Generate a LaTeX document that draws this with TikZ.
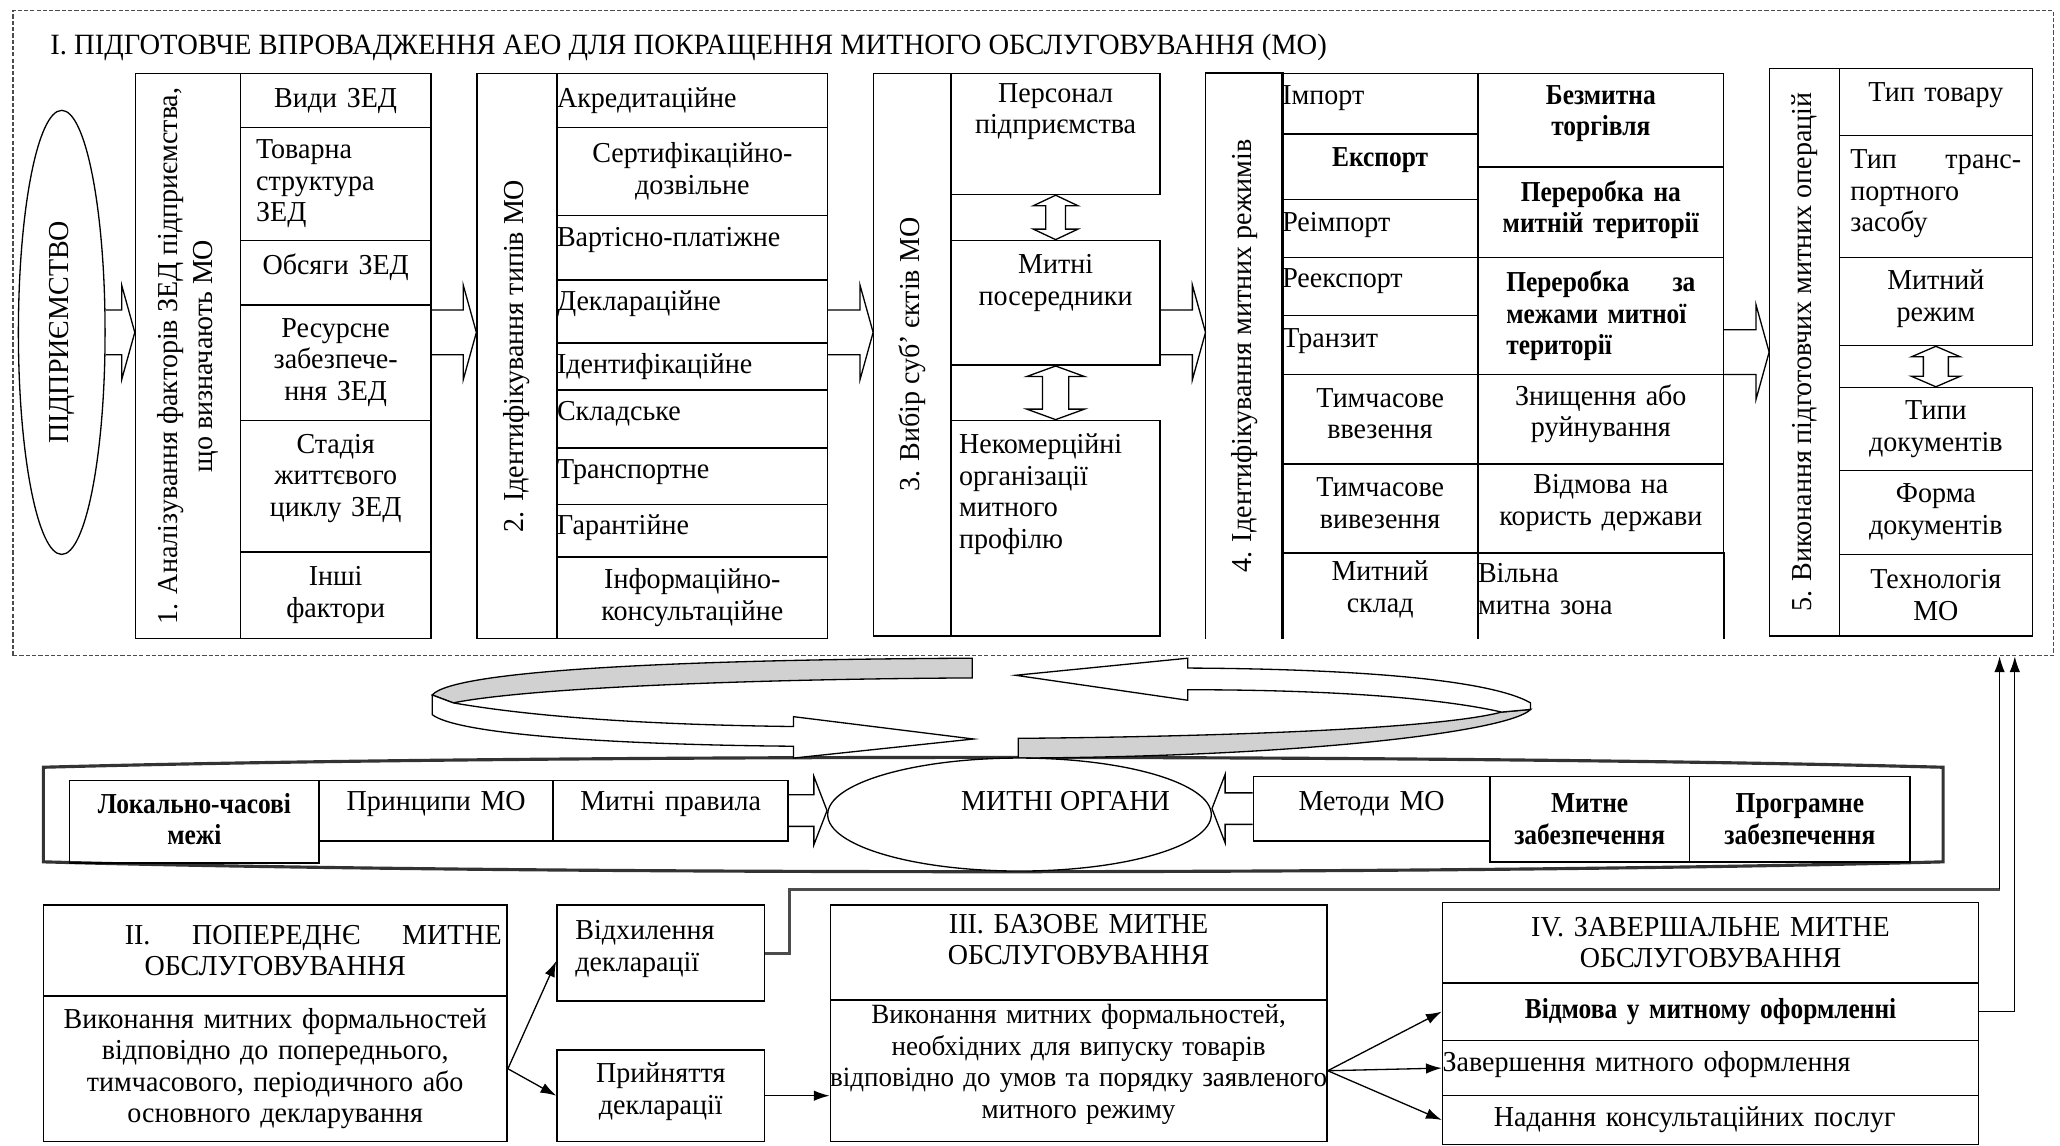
\documentclass[tikz,border=0pt]{standalone}
\usepackage{fontspec}
\setmainfont{Liberation Serif}[FakeStretch=0.97,BoldFeatures={FakeStretch=0.88}]
\usetikzlibrary{calc,fit,arrows.meta,shapes.geometric}

\tikzset{
  box/.style={draw, inner sep=0pt, line width=0.6pt},
  txt/.style={font=\fontsize{11}{12}\selectfont, inner sep=1pt, align=center},
  vlab/.style={txt, rotate=90, font=\fontsize{11}{13.5}\selectfont},
  blk/.style={draw, fill=white, line width=0.5pt},
  ribbon/.style={draw, fill=black!18, line width=0.5pt},
  conn/.style={-{Latex[length=6pt,width=4pt]}, line width=0.5pt},
}

% cell: [text options]{name}{x1}{y1}{x2}{y2}{text}
\newcommand\cell[7][]{%
  \node[box, fit={(#3,#4) (#5,#6)}] (#2) {};
  \pgfmathsetmacro\cw{(#5-#3)*0.5-4}%
  \node[txt, text width=\cw pt, #1] (#2-t) at (#2.center) {#7};}
% cell with no bottom line
\newcommand\ocell[7][]{%
  \node[inner sep=0pt, fit={(#3,#4) (#5,#6)}] (#2) {};
  \draw[line width=0.6pt] (#2.south west) |- (#2.north east) -- (#2.south east);
  \pgfmathsetmacro\cw{(#5-#3)*0.5-4}%
  \node[txt, text width=\cw pt, #1] (#2-t) at (#2.center) {#7};}
% hollow block arrows: {shaft half}{head half}{from}{to}
\newcommand\blockR[4]{%
  \draw[blk] let \p1=(#3), \p2=(#4) in
    (\x1,\y1+#1) -- (\x2-5pt,\y1+#1) -- (\x2-5pt,\y1+#2) -- (\x2,\y1)
    -- (\x2-5pt,\y1-#2) -- (\x2-5pt,\y1-#1) -- (\x1,\y1-#1);}
\newcommand\blockL[4]{%
  \draw[blk] let \p1=(#3), \p2=(#4) in
    (\x1,\y1+#1) -- (\x2+5pt,\y1+#1) -- (\x2+5pt,\y1+#2) -- (\x2,\y1)
    -- (\x2+5pt,\y1-#2) -- (\x2+5pt,\y1-#1) -- (\x1,\y1-#1);}
\newcommand\dblV[4]{%
  \draw[blk] let \p1=(#3), \p2=(#4) in
    (\x1,\y1) -- (\x1+#2,\y1-4pt) -- (\x1+#1,\y1-4pt) -- (\x1+#1,\y2+4pt)
    -- (\x1+#2,\y2+4pt) -- (\x1,\y2) -- (\x1-#2,\y2+4pt) -- (\x1-#1,\y2+4pt)
    -- (\x1-#1,\y1-4pt) -- (\x1-#2,\y1-4pt) -- cycle;}

\begin{document}
\begin{tikzpicture}[x=0.5pt, y=-0.5pt]
\useasboundingbox (0,0) rectangle (1568,872);

%%%%% STAGE I %%%%%
\node[draw, black!70, dash pattern=on 1.6pt off 0.8pt, line width=0.6pt, inner sep=0pt, fit={(10,8) (1563,499)}] (frame) {};
\node[txt, anchor=west, font=\fontsize{11.2}{13}\selectfont] (title) at (36,36) {I. ПІДГОТОВЧЕ ВПРОВАДЖЕННЯ АЕО ДЛЯ ПОКРАЩЕННЯ МИТНОГО ОБСЛУГОВУВАННЯ (МО)};

\coordinate (ar) at (0,253);
\coordinate (ar2) at (0,268);

\node[draw, ellipse, minimum width=33pt, minimum height=169pt, inner sep=0pt, line width=0.5pt] (ent) at (47,253) {};
\node[vlab] (ent-t) at (ent.center) {ПІДПРИЄМСТВО};

\node[inner sep=0pt, fit={(103,56) (328,486)}] (col1) {};
\node[inner sep=0pt, fit={(363,56) (630,486)}] (col2) {};
\node[inner sep=0pt, fit={(665,56) (883,484)}] (col3) {};
\node[inner sep=0pt, fit={(918,56) (1312,486)}] (col4) {};
\node[inner sep=0pt, fit={(1347,52) (1547,484)}] (col5) {};

\blockR{8.5pt}{18pt}{ent.east |- ar}{col1.west |- ar}
\blockR{8.5pt}{18pt}{col1.east |- ar}{col2.west |- ar}
\blockR{8.5pt}{18pt}{col2.east |- ar}{col3.west |- ar}
\blockR{8.5pt}{18pt}{col3.east |- ar}{col4.west |- ar}
\blockR{8.5pt}{18pt}{col4.east |- ar2}{col5.west |- ar2}

% 1
\node[box, fit={(103,56) (183,486)}] (c1) {};
\node[vlab] (c1-t) at (c1.center) {1. Аналізування факторів ЗЕД підприємства,\\ що визначають МО};
\cell{c1a}{183}{56}{328}{97}{Види ЗЕД}
\cell[align=left, xshift=4pt]{c1b}{183}{97}{328}{183}{Товарна\\ структура\\ ЗЕД}
\cell[yshift=2pt]{c1c}{183}{183}{328}{232}{Обсяги ЗЕД}
\cell{c1d}{183}{232}{328}{320}{Ресурсне\\ забезпече-\\ння ЗЕД}
\cell[yshift=3pt]{c1e}{183}{320}{328}{420}{Стадія\\ життєвого\\ циклу ЗЕД}
\cell{c1f}{183}{420}{328}{486}{Інші\\ фактори}

% 2
\node[box, fit={(363,56) (424,486)}] (c2) {};
\node[vlab] (c2-t) at (c2.center) {2. Ідентифікування типів МО};
\cell[align=left, xshift=-2pt]{c2a}{424}{56}{630}{97}{Акредитаційне}
\cell{c2b}{424}{97}{630}{164}{Сертифікаційно-\\дозвільне}
\cell[align=left, xshift=-2pt, yshift=3pt]{c2c}{424}{164}{630}{213}{Вартісно-платіжне}
\cell[align=left, xshift=-2pt, yshift=3pt]{c2d}{424}{213}{630}{261}{Декларацiйне}
\cell[align=left, xshift=-2pt]{c2e}{424}{261}{630}{297}{Ідентифікаційне}
\cell[align=left, xshift=-2pt, yshift=2pt]{c2f}{424}{297}{630}{341}{Складське}
\cell[align=left, xshift=-2pt, yshift=1.5pt]{c2g}{424}{341}{630}{384}{Транспортне}
\cell[align=left, xshift=-2pt, yshift=1pt]{c2h}{424}{384}{630}{424}{Гарантійне}
\cell{c2i}{424}{424}{630}{486}{Інформаційно-\\консультаційне}

% 3
\node[box, fit={(665,56) (724,484)}] (c3) {};
\node[vlab] (c3-t) at (c3.center) {3. Вибір суб' єктів МО};
\cell[yshift=8.5pt]{c3a}{724}{56}{883}{148}{Персонал\\ підприємства}
\cell[yshift=7.5pt]{c3b}{724}{183}{883}{278}{Митні\\ посередники}
\cell[align=left, xshift=1pt, yshift=13pt]{c3c}{724}{320}{883}{484}{Некомерційні\\ організації\\ митного\\ профілю}
\dblV{3.75pt}{8.5pt}{c3a.south}{c3b.north}
\dblV{5pt}{11pt}{c3b.south}{c3c.north}

% 4
\node[inner sep=0pt, fit={(918,56) (976,486)}] (c4) {};
\draw[line width=0.6pt] (c4.south west) |- (c4.north east) -- (c4.south east);
\node[vlab] (c4-t) at (c4.center) {4. Ідентифікування митних режимів};
\cell[align=left, xshift=-2pt, yshift=2pt]{c4a}{976}{56}{1125}{102}{Імпорт}
\cell[yshift=2.5pt]{c4b}{976}{102}{1125}{152}{\textbf{Експорт}}
\cell[align=left, xshift=-2pt, yshift=1.5pt]{c4c}{976}{152}{1125}{196}{Реімпорт}
\cell[align=left, xshift=-2pt, yshift=2pt]{c4d}{976}{196}{1125}{240}{Реекспорт}
\cell[align=left, xshift=-2pt, yshift=1.5pt]{c4e}{976}{240}{1125}{285}{Транзит}
\cell[yshift=2pt]{c4f}{976}{285}{1125}{353}{Тимчасове\\ ввезення}
\cell[yshift=2pt]{c4g}{976}{353}{1125}{421}{Тимчасове\\ вивезення}
\ocell[yshift=2.5pt]{c4h}{976}{421}{1125}{486}{Митний\\ склад}
\cell[yshift=2.5pt]{c4i}{1125}{56}{1312}{127}{\textbf{Безмитна}\\ \textbf{торгівля}}
\cell[yshift=1pt]{c4j}{1125}{127}{1312}{196}{\textbf{Переробка на}\\ \textbf{митній території}}
\cell[align=left, text width=72pt]{c4k}{1125}{196}{1312}{285}{\textbf{Переробка\hfill за}\\ \textbf{межами митної}\\ \textbf{території}}
\cell[yshift=2pt]{c4l}{1125}{285}{1312}{353}{Знищення або\\ руйнування}
\cell[yshift=2pt]{c4m}{1125}{353}{1312}{421}{Відмова на\\ користь держави}
\ocell[align=left, xshift=-2pt, yshift=2.5pt]{c4n}{1125}{421}{1312}{486}{Вільна\\ митна зона}

% 5
\node[box, fit={(1347,52) (1400,484)}] (c5) {};
\node[vlab] (c5-t) at (c5.center) {5. Виконання підготовчих митних операцій};
\cell[yshift=2.5pt]{c5a}{1400}{52}{1547}{103}{Тип товару}
\cell[align=left, text width=65pt, yshift=1pt]{c5b}{1400}{103}{1547}{196}{Тип\hfill транс-\\ портного\\ засобу}
\cell[yshift=1pt]{c5c}{1400}{196}{1547}{263}{Митний\\ режим}
\cell{c5d}{1400}{295}{1547}{358}{Типи\\ документів}
\cell{c5e}{1400}{358}{1547}{422}{Форма\\ документів}
\cell{c5f}{1400}{422}{1547}{484}{Технологія\\ МО}
\dblV{4.75pt}{9.3pt}{c5c.south}{c5d.north}

%%%%% CUSTOMS BODIES %%%%%
\draw[line width=1.2pt, black!80] (33,584) .. controls (400,574) and (1100,574) .. (1479,584) -- (1479,656) .. controls (1100,666) and (400,666) .. (33,656) -- cycle;

\draw[ribbon] (740,501) .. controls (520,502) and (345,510) .. (329,529) -- (345,535) .. controls (400,524) and (560,517) .. (740,516) -- cycle;
\draw[blk] (345,535) .. controls (420,548) and (520,552) .. (604,553) -- (604,545.5) -- (741,562.5) -- (604,577) -- (604,568) .. controls (480,567) and (350,560) .. (329,544) -- (329,529) -- cycle;
\draw[ribbon] (775,562) .. controls (900,561) and (1090,556) .. (1143,542) -- (1165,540) .. controls (1150,556) and (1000,576) .. (775,577) -- cycle;
\draw[blk] (1143,542) .. controls (1090,530) and (1000,525) .. (904,525) -- (904,533) -- (773,514) -- (904,501) -- (904,508.5) .. controls (1010,509) and (1130,515) .. (1165,535) -- (1165,540) -- cycle;

\node[draw, fill=white, ellipse, minimum width=146pt, minimum height=43pt, inner sep=0pt, line width=0.5pt] (org) at (776,620) {};
\node[txt] (org-t) at (811,610) {МИТНІ ОРГАНИ};

\cell[yshift=1pt]{r1}{53}{594}{243}{657}{\textbf{Локально-часові}\\ \textbf{межі}}
\cell[yshift=2.5pt]{r2}{243}{594}{421}{640}{Принципи МО}
\cell[yshift=2.5pt]{r3}{421}{594}{600}{640}{Митні правила}
\cell[yshift=2pt]{r4}{954}{591}{1134}{640}{Методи МО}
\cell{r5}{1134}{591}{1286}{656}{\textbf{Митне}\\ \textbf{забезпечення}}
\cell{r6}{1286}{591}{1454}{656}{\textbf{Програмне}\\ \textbf{забезпечення}}

\blockR{6pt}{13pt}{r3.east}{r3.east -| org.west}
\blockL{6pt}{13pt}{r4.west}{r4.west -| org.east}

%%%%% STAGES II - IV %%%%%
\cell[align=left]{b2h}{33}{689}{386}{758}{\hspace*{29pt}II.\hfill ПОПЕРЕДНЄ\hfill МИТНЕ\\ \makebox[\linewidth]{ОБСЛУГОВУВАННЯ}}
\cell{b2}{33}{758}{386}{869}{Виконання митних формальностей\\ відповідно до попереднього,\\ тимчасового, періодичного або\\ основного декларування}
\cell[align=left, xshift=5pt, yshift=1.5pt]{vidh}{424}{689}{582}{762}{Відхилення\\ декларації}
\cell[yshift=1.5pt]{pryi}{424}{799}{582}{869}{Прийняття\\ декларації}
\cell[yshift=5pt]{b3h}{632}{689}{1010}{761}{III. БАЗОВЕ МИТНЕ\\ ОБСЛУГОВУВАННЯ}
\cell[text width=190pt, yshift=2.5pt, font=\fontsize{10.6}{12}\selectfont]{b3}{632}{761}{1010}{869}{Виконання митних формальностей,\\ необхідних для випуску товарів\\ відповідно до умов та порядку заявленого\\ митного режиму}
\cell{b4h}{1098}{687}{1506}{748}{IV. ЗАВЕРШАЛЬНЕ МИТНЕ\\ ОБСЛУГОВУВАННЯ}
\cell{iv1}{1098}{748}{1506}{792}{\textbf{Відмова у митному оформленні}}
\cell[align=left, xshift=-2pt, yshift=1.5pt]{iv2}{1098}{792}{1506}{834}{Завершення митного оформлення}
\cell[xshift=-6pt]{iv3}{1098}{834}{1506}{871}{Надання консультаційних послуг}

\draw[conn] (b2.east) -- ([yshift=-3pt]vidh.west);
\draw[conn] (b2.east) -- (pryi.west);
\draw[conn] (pryi.east) -- (pryi.east -| b3.west);
\draw[conn] (b3.east) -- (iv1.west);
\draw[conn] (b3.east) -- (iv2.west);
\draw[conn] (b3.east) -- (iv3.west);

\coordinate (gl) at (1522,677);
\draw[line width=1.1pt, black!70] (vidh.east) -- ++(18,0) |- (gl);
\draw[conn] (gl) -- (gl |- frame.south);
\draw[conn] (iv1.east) -- ++(27,0) coordinate (v2) -- (v2 |- frame.south);

\end{tikzpicture}
\end{document}
